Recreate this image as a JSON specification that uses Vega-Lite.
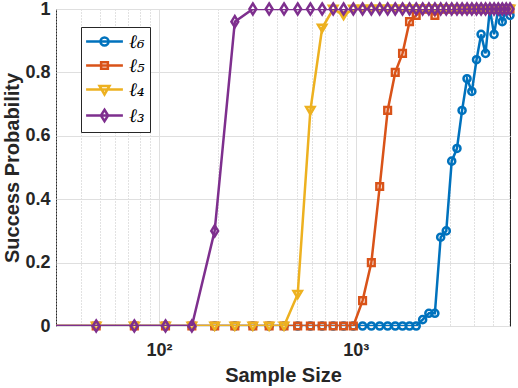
{
"$schema": "https://vega.github.io/schema/vega-lite/v6.json",
"width": 454, "height": 317,
"autosize": {"type": "none"},
"padding": {"left": 56, "top": 9, "right": 8, "bottom": 62},
"background": "white",
"config": {"view": {"stroke": "#262626", "strokeWidth": 1}},
"data": {"values": [
{"s":"ℓ₆","n":27,"p":0},{"s":"ℓ₆","n":48,"p":0},{"s":"ℓ₆","n":75,"p":0},{"s":"ℓ₆","n":108,"p":0},{"s":"ℓ₆","n":147,"p":0},{"s":"ℓ₆","n":192,"p":0},{"s":"ℓ₆","n":243,"p":0},{"s":"ℓ₆","n":300,"p":0},{"s":"ℓ₆","n":363,"p":0},{"s":"ℓ₆","n":432,"p":0},{"s":"ℓ₆","n":507,"p":0},{"s":"ℓ₆","n":588,"p":0},{"s":"ℓ₆","n":675,"p":0},{"s":"ℓ₆","n":768,"p":0},{"s":"ℓ₆","n":867,"p":0},{"s":"ℓ₆","n":972,"p":0},{"s":"ℓ₆","n":1083,"p":0},{"s":"ℓ₆","n":1200,"p":0},{"s":"ℓ₆","n":1323,"p":0},{"s":"ℓ₆","n":1452,"p":0},{"s":"ℓ₆","n":1587,"p":0},{"s":"ℓ₆","n":1728,"p":0},{"s":"ℓ₆","n":1875,"p":0},{"s":"ℓ₆","n":2028,"p":0},{"s":"ℓ₆","n":2187,"p":0.02},{"s":"ℓ₆","n":2352,"p":0.04},{"s":"ℓ₆","n":2523,"p":0.04},{"s":"ℓ₆","n":2700,"p":0.28},{"s":"ℓ₆","n":2883,"p":0.30},{"s":"ℓ₆","n":3072,"p":0.52},{"s":"ℓ₆","n":3267,"p":0.56},{"s":"ℓ₆","n":3468,"p":0.68},{"s":"ℓ₆","n":3675,"p":0.78},{"s":"ℓ₆","n":3888,"p":0.74},{"s":"ℓ₆","n":4107,"p":0.84},{"s":"ℓ₆","n":4332,"p":0.92},{"s":"ℓ₆","n":4563,"p":0.86},{"s":"ℓ₆","n":4800,"p":1},{"s":"ℓ₆","n":5043,"p":0.92},{"s":"ℓ₆","n":5292,"p":1},{"s":"ℓ₆","n":5547,"p":0.96},{"s":"ℓ₆","n":5808,"p":1},{"s":"ℓ₆","n":6075,"p":0.98},
{"s":"ℓ₅","n":27,"p":0},{"s":"ℓ₅","n":48,"p":0},{"s":"ℓ₅","n":75,"p":0},{"s":"ℓ₅","n":108,"p":0},{"s":"ℓ₅","n":147,"p":0},{"s":"ℓ₅","n":192,"p":0},{"s":"ℓ₅","n":243,"p":0},{"s":"ℓ₅","n":300,"p":0},{"s":"ℓ₅","n":363,"p":0},{"s":"ℓ₅","n":432,"p":0},{"s":"ℓ₅","n":507,"p":0},{"s":"ℓ₅","n":588,"p":0},{"s":"ℓ₅","n":675,"p":0},{"s":"ℓ₅","n":768,"p":0},{"s":"ℓ₅","n":867,"p":0},{"s":"ℓ₅","n":972,"p":0},{"s":"ℓ₅","n":1083,"p":0.08},{"s":"ℓ₅","n":1200,"p":0.20},{"s":"ℓ₅","n":1323,"p":0.44},{"s":"ℓ₅","n":1452,"p":0.68},{"s":"ℓ₅","n":1587,"p":0.80},{"s":"ℓ₅","n":1728,"p":0.86},{"s":"ℓ₅","n":1875,"p":0.96},{"s":"ℓ₅","n":2028,"p":0.98},{"s":"ℓ₅","n":2187,"p":1},{"s":"ℓ₅","n":2352,"p":1},{"s":"ℓ₅","n":2523,"p":0.98},{"s":"ℓ₅","n":2700,"p":1},{"s":"ℓ₅","n":2883,"p":1},{"s":"ℓ₅","n":3072,"p":1},{"s":"ℓ₅","n":3267,"p":1},{"s":"ℓ₅","n":3468,"p":1},{"s":"ℓ₅","n":3675,"p":1},{"s":"ℓ₅","n":3888,"p":1},{"s":"ℓ₅","n":4107,"p":1},{"s":"ℓ₅","n":4332,"p":1},{"s":"ℓ₅","n":4563,"p":1},{"s":"ℓ₅","n":4800,"p":1},{"s":"ℓ₅","n":5043,"p":1},{"s":"ℓ₅","n":5292,"p":1},{"s":"ℓ₅","n":5547,"p":1},{"s":"ℓ₅","n":5808,"p":1},{"s":"ℓ₅","n":6075,"p":1},
{"s":"ℓ₄","n":27,"p":0},{"s":"ℓ₄","n":48,"p":0},{"s":"ℓ₄","n":75,"p":0},{"s":"ℓ₄","n":108,"p":0},{"s":"ℓ₄","n":147,"p":0},{"s":"ℓ₄","n":192,"p":0},{"s":"ℓ₄","n":243,"p":0},{"s":"ℓ₄","n":300,"p":0},{"s":"ℓ₄","n":363,"p":0},{"s":"ℓ₄","n":432,"p":0},{"s":"ℓ₄","n":507,"p":0.10},{"s":"ℓ₄","n":588,"p":0.68},{"s":"ℓ₄","n":675,"p":0.94},{"s":"ℓ₄","n":768,"p":1},{"s":"ℓ₄","n":867,"p":0.98},{"s":"ℓ₄","n":972,"p":1},{"s":"ℓ₄","n":1083,"p":1},{"s":"ℓ₄","n":1200,"p":1},{"s":"ℓ₄","n":1323,"p":1},{"s":"ℓ₄","n":1452,"p":1},{"s":"ℓ₄","n":1587,"p":1},{"s":"ℓ₄","n":1728,"p":1},{"s":"ℓ₄","n":1875,"p":1},{"s":"ℓ₄","n":2028,"p":1},{"s":"ℓ₄","n":2187,"p":1},{"s":"ℓ₄","n":2352,"p":1},{"s":"ℓ₄","n":2523,"p":1},{"s":"ℓ₄","n":2700,"p":1},{"s":"ℓ₄","n":2883,"p":1},{"s":"ℓ₄","n":3072,"p":1},{"s":"ℓ₄","n":3267,"p":1},{"s":"ℓ₄","n":3468,"p":1},{"s":"ℓ₄","n":3675,"p":1},{"s":"ℓ₄","n":3888,"p":1},{"s":"ℓ₄","n":4107,"p":1},{"s":"ℓ₄","n":4332,"p":1},{"s":"ℓ₄","n":4563,"p":1},{"s":"ℓ₄","n":4800,"p":1},{"s":"ℓ₄","n":5043,"p":1},{"s":"ℓ₄","n":5292,"p":1},{"s":"ℓ₄","n":5547,"p":1},{"s":"ℓ₄","n":5808,"p":1},{"s":"ℓ₄","n":6075,"p":1},
{"s":"ℓ₃","n":27,"p":0},{"s":"ℓ₃","n":48,"p":0},{"s":"ℓ₃","n":75,"p":0},{"s":"ℓ₃","n":108,"p":0},{"s":"ℓ₃","n":147,"p":0},{"s":"ℓ₃","n":192,"p":0.30},{"s":"ℓ₃","n":243,"p":0.96},{"s":"ℓ₃","n":300,"p":1},{"s":"ℓ₃","n":363,"p":1},{"s":"ℓ₃","n":432,"p":1},{"s":"ℓ₃","n":507,"p":1},{"s":"ℓ₃","n":588,"p":1},{"s":"ℓ₃","n":675,"p":1},{"s":"ℓ₃","n":768,"p":1},{"s":"ℓ₃","n":867,"p":1},{"s":"ℓ₃","n":972,"p":1},{"s":"ℓ₃","n":1083,"p":1},{"s":"ℓ₃","n":1200,"p":1},{"s":"ℓ₃","n":1323,"p":1},{"s":"ℓ₃","n":1452,"p":1},{"s":"ℓ₃","n":1587,"p":1},{"s":"ℓ₃","n":1728,"p":1},{"s":"ℓ₃","n":1875,"p":1},{"s":"ℓ₃","n":2028,"p":1},{"s":"ℓ₃","n":2187,"p":1},{"s":"ℓ₃","n":2352,"p":1},{"s":"ℓ₃","n":2523,"p":1},{"s":"ℓ₃","n":2700,"p":1},{"s":"ℓ₃","n":2883,"p":1},{"s":"ℓ₃","n":3072,"p":1},{"s":"ℓ₃","n":3267,"p":1},{"s":"ℓ₃","n":3468,"p":1},{"s":"ℓ₃","n":3675,"p":1},{"s":"ℓ₃","n":3888,"p":1},{"s":"ℓ₃","n":4107,"p":1},{"s":"ℓ₃","n":4332,"p":1},{"s":"ℓ₃","n":4563,"p":1},{"s":"ℓ₃","n":4800,"p":1},{"s":"ℓ₃","n":5043,"p":1},{"s":"ℓ₃","n":5292,"p":1},{"s":"ℓ₃","n":5547,"p":1},{"s":"ℓ₃","n":5808,"p":1},{"s":"ℓ₃","n":6075,"p":1}
]},
"encoding": {
  "x": {"field": "n", "type": "quantitative",
    "scale": {"type": "log", "domain": [30, 6075], "nice": false},
    "axis": {
      "values": [30,40,50,60,70,80,90,100,200,300,400,500,600,700,800,900,1000,2000,3000,4000,5000,6000],
      "labelExpr": "datum.value == 100 ? '10²' : (datum.value == 1000 ? '10³' : '')",
      "grid": true,
      "gridColor": {"condition": {"test": "datum.value == 100 || datum.value == 1000", "value": "#dfdfdf"}, "value": "#c4c4c4"},
      "gridDash": {"condition": {"test": "datum.value == 100 || datum.value == 1000", "value": []}, "value": [1, 2]},
      "ticks": false, "domain": false, "labelFlush": false, "labelOverlap": false,
      "labelFont": "Liberation Sans", "labelFontWeight": "bold", "labelFontSize": 18, "labelColor": "#262626", "labelPadding": 15,
      "title": "Sample Size", "titleFont": "Liberation Sans", "titleFontSize": 20, "titleFontWeight": "bold", "titleColor": "#262626", "titlePadding": 6
    }
  },
  "y": {"field": "p", "type": "quantitative",
    "scale": {"domain": [0, 1], "nice": false},
    "axis": {
      "values": [0, 0.2, 0.4, 0.6, 0.8, 1], "format": "~g",
      "grid": true, "gridColor": "#dfdfdf", "ticks": false, "domain": false,
      "labelFont": "Liberation Sans", "labelFontWeight": "bold", "labelFontSize": 18, "labelColor": "#262626", "labelPadding": 6,
      "title": "Success Probability", "titleFont": "Liberation Sans", "titleFontSize": 20, "titleFontWeight": "bold", "titleColor": "#262626", "titlePadding": 2
    }
  }
},
"layer": [
  {"transform": [{"filter": "datum.s == 'ℓ₆'"}], "mark": {"type": "line", "color": "#0072BD", "strokeWidth": 2.5, "clip": true}},
  {"transform": [{"filter": "datum.s == 'ℓ₆' && datum.n >= 30"}], "mark": {"type": "point", "shape": "circle", "size": 50, "filled": false, "color": "#0072BD", "strokeWidth": 2.5, "opacity": 1}},
  {"transform": [{"filter": "datum.s == 'ℓ₅'"}], "mark": {"type": "line", "color": "#D95319", "strokeWidth": 2.5, "clip": true}},
  {"transform": [{"filter": "datum.s == 'ℓ₅' && datum.n >= 30"}], "mark": {"type": "point", "shape": "square", "size": 44, "filled": false, "color": "#D95319", "strokeWidth": 2.5, "opacity": 1}},
  {"transform": [{"filter": "datum.s == 'ℓ₄'"}], "mark": {"type": "line", "color": "#EDB120", "strokeWidth": 2.5, "clip": true}},
  {"transform": [{"filter": "datum.s == 'ℓ₄' && datum.n >= 30"}], "mark": {"type": "point", "shape": "M-1,-0.8H1L0,0.9Z", "size": 70, "filled": false, "color": "#EDB120", "strokeWidth": 2.5, "opacity": 1}},
  {"transform": [{"filter": "datum.s == 'ℓ₃'"}], "mark": {"type": "line", "color": "#7E2F8E", "strokeWidth": 2.5, "clip": true}},
  {"transform": [{"filter": "datum.s == 'ℓ₃' && datum.n >= 30"}], "mark": {"type": "point", "shape": "M0,-1L0.62,0L0,1L-0.62,0Z", "size": 121, "filled": false, "color": "#7E2F8E", "strokeWidth": 2.5, "opacity": 1}},
  {"transform": [{"filter": "false"}],
   "mark": {"type": "point", "filled": false, "strokeWidth": 2.5, "opacity": 1},
   "encoding": {
     "color": {"field": "s", "type": "nominal",
       "scale": {"domain": ["ℓ₆", "ℓ₅", "ℓ₄", "ℓ₃"], "range": ["#0072BD", "#D95319", "#EDB120", "#7E2F8E"]},
       "legend": {"title": null, "orient": "none", "legendX": 25, "legendY": 18, "padding": 5, "fillColor": "white", "strokeColor": "#262626", "symbolSize": 256, "symbolStrokeWidth": 2.5, "symbolOffset": 9, "labelOffset": 15, "labelFont": "DejaVu Serif", "labelFontStyle": "italic", "labelFontSize": 19, "labelColor": "black", "rowPadding": 4, "zindex": 1}},
     "shape": {"field": "s", "type": "nominal",
       "scale": {"domain": ["ℓ₆", "ℓ₅", "ℓ₄", "ℓ₃"], "range": [
         "M-2.3,0H2.3M0.5,0A0.5,0.5,0,1,1,-0.5,0A0.5,0.5,0,1,1,0.5,0",
         "M-2.3,0H2.3M-0.42,-0.42H0.42V0.42H-0.42Z",
         "M-2.3,0H2.3M-0.62,-0.45H0.62L0,0.62Z",
         "M-2.3,0H2.3M0,-0.72L0.45,0L0,0.72L-0.45,0Z"]},
       "legend": {"title": null, "orient": "none", "legendX": 25, "legendY": 18, "padding": 5, "fillColor": "white", "strokeColor": "#262626", "symbolSize": 256, "symbolStrokeWidth": 2.5, "symbolOffset": 9, "labelOffset": 15, "labelFont": "DejaVu Serif", "labelFontStyle": "italic", "labelFontSize": 19, "labelColor": "black", "rowPadding": 4, "zindex": 1}}
   }
  }
]
}
